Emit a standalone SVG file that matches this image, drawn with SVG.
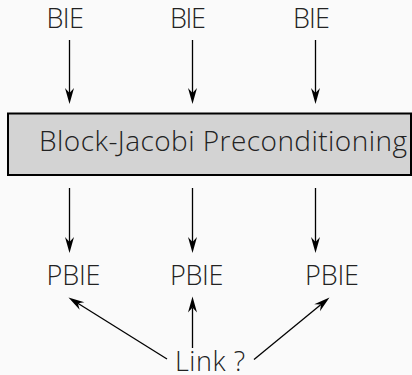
<svg xmlns="http://www.w3.org/2000/svg" width="412" height="375" viewBox="0 0 412 375">
<style>
.t{font-family:"Open Sans","Liberation Sans",sans-serif;font-weight:300;font-size:27px;fill:#222}
.c{stroke:#000;stroke-width:1.3;fill:none;marker-end:url(#ah)}
</style>
<defs>
<marker id="ah" markerUnits="userSpaceOnUse" markerWidth="20" markerHeight="12" refX="5" refY="5" orient="auto" viewBox="0 0 20 10" overflow="visible">
<path d="M0,0.5 L16,5 L0,9.5 L5,5 Z" fill="#000"/>
</marker>
</defs>
<rect width="412" height="375" fill="#fafafa"/>
<g id="bie1"><text class="t" x="46.5" y="27.5" textLength="37.5" lengthAdjust="spacing">BIE</text></g>
<g id="bie2"><text class="t" x="170" y="27.5" textLength="36" lengthAdjust="spacing">BIE</text></g>
<g id="bie3"><text class="t" x="293" y="27.5" textLength="37" lengthAdjust="spacing">BIE</text></g>
<g id="precond"><rect x="8" y="113.5" width="403" height="61.5" fill="#d3d3d3" stroke="#000" stroke-width="2"/><text class="t" x="39" y="151" style="font-size:28px" textLength="368" lengthAdjust="spacing">Block-Jacobi Preconditioning</text></g>
<g id="pbie1"><text class="t" x="46.5" y="285" textLength="54" lengthAdjust="spacing">PBIE</text></g>
<g id="pbie2"><text class="t" x="170" y="285" textLength="53.5" lengthAdjust="spacing">PBIE</text></g>
<g id="pbie3"><text class="t" x="305" y="285" textLength="54" lengthAdjust="spacing">PBIE</text></g>
<g id="link"><text class="t" x="175" y="370.5" textLength="70" lengthAdjust="spacing">Link ?</text></g>
<g id="connectors">
<line class="c" x1="69.5" y1="40" x2="69.5" y2="93"/>
<line class="c" x1="192.5" y1="40" x2="192.5" y2="93"/>
<line class="c" x1="315.5" y1="40" x2="315.5" y2="93"/>
<line class="c" x1="69.5" y1="188" x2="69.5" y2="242"/>
<line class="c" x1="192.5" y1="188" x2="192.5" y2="242"/>
<line class="c" x1="315.5" y1="188" x2="315.5" y2="242"/>
<line class="c" x1="167" y1="359" x2="77.8" y2="303.3"/>
<line class="c" x1="192.5" y1="348" x2="192.5" y2="307.5"/>
<line class="c" x1="254" y1="359.5" x2="321" y2="304.5"/>
</g>
</svg>
